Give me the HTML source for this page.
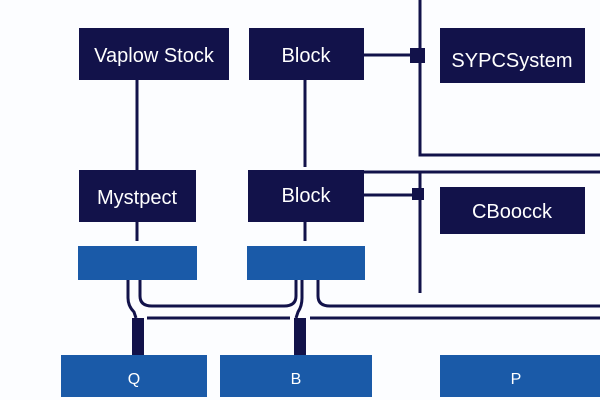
<!DOCTYPE html>
<html><head><style>body{margin:0;background:#fcfdff}svg{display:block}</style></head><body>
<svg width="600" height="400" xmlns="http://www.w3.org/2000/svg" font-family="Liberation Sans, sans-serif">
<rect width="600" height="400" fill="#fcfdff"/>
<g stroke="#12124a" stroke-width="3" fill="none">
<path d="M420 0 V155 H600"/>
<path d="M364 55 H412"/>
<path d="M137 80 V170 M305 80 V167"/>
<path d="M364 172 H600"/>
<path d="M364 195 H418 M420 172 V293"/>
<path d="M137 222 V241 M305 222 V241"/>
<path d="M128 280 V298 Q128 306 134 312 L136 318"/>
<path d="M140 280 V296 Q140 306 152 306 H284 Q296 306 296 296 V280"/>
<path d="M302 280 V298 Q302 306 298 312 L296 318"/>
<path d="M318 280 V296 Q318 306 330 306 H600"/>
<path d="M147 318 H290 M310 318 H600"/>
</g>
<rect x="410" y="48" width="15" height="15" fill="#12124a"/>
<rect x="412" y="188" width="12" height="12" fill="#12124a"/>
<rect x="132" y="318" width="12" height="37" fill="#12124a"/>
<rect x="294" y="318" width="12" height="37" fill="#12124a"/>
<g fill="#12124a">
<rect x="79" y="28" width="150" height="52"/>
<rect x="249" y="28" width="115" height="52"/>
<rect x="440" y="28" width="145" height="55"/>
<rect x="79" y="170" width="117" height="52"/>
<rect x="248" y="170" width="116" height="52"/>
<rect x="440" y="187" width="145" height="47"/>
</g>
<g fill="#1a5aa8">
<rect x="78" y="246" width="119" height="34"/>
<rect x="247" y="246" width="118" height="34"/>
<rect x="61" y="355" width="146" height="42"/>
<rect x="220" y="355" width="152" height="42"/>
<rect x="440" y="355" width="160" height="42"/>
</g>
<g fill="#fff" font-size="20" text-anchor="middle">
<text x="154" y="62">Vaplow Stock</text>
<text x="306" y="62">Block</text>
<text x="512" y="67">SYPCSystem</text>
<text x="137" y="204">Mystpect</text>
<text x="306" y="202">Block</text>
<text x="512" y="218">CBoocck</text>
<text x="134" y="384" font-size="16">Q</text>
<text x="296" y="384" font-size="16">B</text>
<text x="516" y="384" font-size="16">P</text>
</g>
</svg>
</body></html>
